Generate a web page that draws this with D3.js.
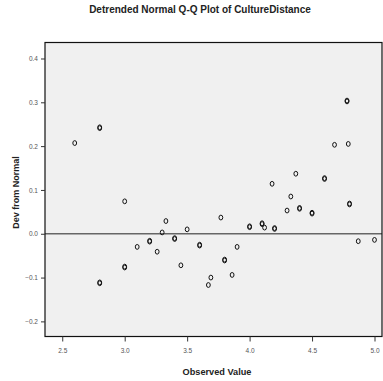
<!DOCTYPE html>
<html>
<head>
<meta charset="utf-8">
<script src="https://cdn.jsdelivr.net/npm/d3@7"></script>
<style>
  html, body { margin: 0; padding: 0; background: #ffffff; }
  svg { display: block; font-family: "Liberation Sans", Arial, sans-serif; }
</style>
</head>
<body>
<svg id="chart" width="383" height="381"></svg>
<script>
// Observed values of CultureDistance and their deviation from the normal line
const observed = [
  2.6, 2.8, 2.8, 3.0, 3.33, 3.3, 3.2, 3.2, 3.1, 3.26, 3.0, 3.0, 2.8, 2.8,
  3.5, 3.4, 3.4, 3.45, 3.77, 3.6, 3.6, 3.9, 3.8, 3.8, 3.86, 3.69, 3.67,
  4.0, 4.0, 4.1, 4.1, 4.12, 4.2, 4.2, 4.18, 4.37, 4.33, 4.3, 4.4, 4.4,
  4.5, 4.5, 4.6, 4.6, 4.68, 4.79, 4.78, 4.78, 4.8, 4.8, 4.87, 5.0
];
const deviation = [
  0.207, 0.243, 0.241, 0.074, 0.029, 0.003, -0.018, -0.016, -0.030, -0.041, -0.077, -0.075, -0.113, -0.111,
  0.010, -0.012, -0.010, -0.072, 0.037, -0.027, -0.025, -0.030, -0.061, -0.059, -0.094, -0.100, -0.117,
  0.017, 0.015, 0.024, 0.022, 0.014, 0.013, 0.011, 0.114, 0.137, 0.085, 0.053, 0.059, 0.057,
  0.048, 0.046, 0.127, 0.125, 0.203, 0.205, 0.304, 0.302, 0.069, 0.067, -0.017, -0.014
];
const xTicks = [2.5, 3.0, 3.5, 4.0, 4.5, 5.0];
const yTicks = [-0.2, -0.1, 0.0, 0.1, 0.2, 0.3, 0.4];

const title = "Detrended Normal Q-Q Plot of CultureDistance";
const xTitle = "Observed Value";
const yTitle = "Dev from Normal";

const svg = d3.select("#chart");
const frame = { left: 45, right: 382, top: 42.5, bottom: 336.5 };

const x = d3.scaleLinear().domain([2.362, 5.06]).range([frame.left, frame.right]);
const y = d3.scaleLinear().domain([-0.2345, 0.4365]).range([frame.bottom, frame.top]);

// plot background
svg.append("rect")
  .attr("x", frame.left).attr("y", frame.top)
  .attr("width", frame.right - frame.left).attr("height", frame.bottom - frame.top)
  .attr("fill", "#f0f0f0");

// reference line at zero deviation
svg.append("line")
  .attr("x1", frame.left).attr("x2", frame.right)
  .attr("y1", y(0)).attr("y2", y(0))
  .attr("stroke", "#666").attr("stroke-width", 1.6);

// frame
svg.append("rect")
  .attr("x", frame.left).attr("y", frame.top)
  .attr("width", frame.right - frame.left).attr("height", frame.bottom - frame.top)
  .attr("fill", "none").attr("stroke", "#111").attr("stroke-width", 1.2);

// axes
const fmt = d3.format(".1f");
const yAxis = svg.append("g")
  .attr("transform", `translate(${frame.left},0)`)
  .call(d3.axisLeft(y).tickValues(yTicks).tickFormat(fmt).tickSize(4).tickPadding(3));
const xAxis = svg.append("g")
  .attr("transform", `translate(0,${frame.bottom})`)
  .call(d3.axisBottom(x).tickValues(xTicks).tickFormat(fmt).tickSize(5).tickPadding(7));

[yAxis, xAxis].forEach(g => {
  g.select(".domain").remove();
  g.selectAll(".tick line").attr("stroke", "#333").attr("stroke-width", 1);
  g.selectAll(".tick text")
    .attr("fill", "#555")
    .style("font-size", "6.5px")
    .style("font-family", "'Liberation Sans', Arial, sans-serif");
});

// points
svg.append("g")
  .selectAll("ellipse")
  .data(observed.map((v, i) => ({ v, d: deviation[i] })))
  .join("ellipse")
  .attr("cx", p => x(p.v))
  .attr("cy", p => y(p.d))
  .attr("rx", 1.9)
  .attr("ry", 2.4)
  .attr("fill", "none")
  .attr("stroke", "#111")
  .attr("stroke-width", 1);

// titles
svg.append("text")
  .attr("x", 200).attr("y", 13)
  .attr("text-anchor", "middle")
  .attr("fill", "#222")
  .style("font-size", "10px").style("font-weight", "bold")
  .text(title);

svg.append("text")
  .attr("x", 217).attr("y", 375)
  .attr("text-anchor", "middle")
  .attr("fill", "#222")
  .style("font-size", "9.2px").style("font-weight", "bold")
  .text(xTitle);

svg.append("text")
  .attr("transform", `translate(19,${(frame.top + frame.bottom) / 2 + 3}) rotate(-90)`)
  .attr("text-anchor", "middle")
  .attr("fill", "#222")
  .style("font-size", "9px").style("font-weight", "bold")
  .text(yTitle);
</script>
</body>
</html>
